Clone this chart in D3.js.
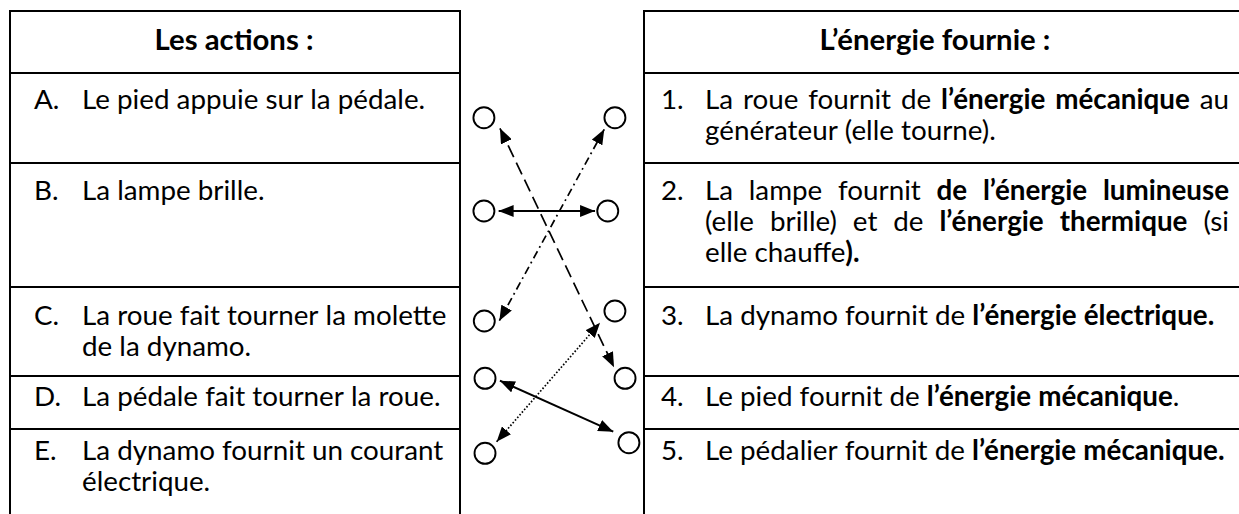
<!DOCTYPE html>
<html><head><meta charset="utf-8">
<script src="https://cdn.jsdelivr.net/npm/d3@7"></script>
<style>html,body{margin:0;padding:0;background:#fff}svg{display:block}</style>
</head><body>
<svg id="c" width="1239" height="514"></svg>
<script>
// ---------- data ----------
const headers = ["Les actions :", "L’énergie fournie :"];
const actionKeys = ["A.", "B.", "C.", "D.", "E."];
const actionTexts = [
  "Le pied appuie sur la pédale.",
  "La lampe brille.",
  "La roue fait tourner la molette|de la dynamo.",
  "La pédale fait tourner la roue.",
  "La dynamo fournit un courant|électrique."
];
const energyKeys = ["1.", "2.", "3.", "4.", "5."];
const energyTexts = [
  "La roue fournit de **l’énergie mécanique** au|générateur (elle tourne).",
  "La lampe fournit **de l’énergie lumineuse**|(elle brille) et de **l’énergie thermique** (si|elle chauffe**).**",
  "La dynamo fournit de **l’énergie électrique.**",
  "Le pied fournit de **l’énergie mécanique**.",
  "Le pédalier fournit de **l’énergie mécanique.**"
];
// answer nodes (u: % across the middle gap, v: vertical units)
const leftNodeIds = ["A", "B", "C", "D", "E"];
const leftNodeU = [13, 13, 13.2, 13.6, 13.6];
const leftNodeV = [117.7, 211, 321, 378.3, 453.3];
const rightNodeIds = ["1", "2", "3", "4", "5"];
const rightNodeU = [84.2, 80.3, 84.2, 89.7, 91.8];
const rightNodeV = [117.7, 211, 311, 378.3, 442.7];
// links (arrow tips)
const linkFrom = ["A", "B", "C", "D", "E"];
const linkTo = ["4", "2", "1", "5", "3"];
const linkStyle = ["dashed", "solid", "dashdot", "solid", "dotted"];
const linkFromU = [21.7, 21.0, 21.4, 21.7, 19.9];
const linkFromV = [128.3, 211, 320.7, 380.7, 441.7];
const linkToU = [83.7, 73.4, 78.4, 83.3, 76.1];
const linkToV = [367.3, 211, 129.3, 431.7, 322.7];

// ---------- layout ----------
const W = 1239, H = 514;
const svg = d3.select("#c");
const FONT = "Lato, 'Open Sans', sans-serif";
const rowEdges = [11, 73, 163, 287, 376, 429];
const leftX0 = 10, leftX1 = 460, rightX0 = 644, rightX1 = 1250;
const u = d3.scaleLinear().domain([0, 100]).range([leftX1, rightX0]);
const v = d3.scaleLinear().domain([0, H]).range([0, H]);

// measure helper
const meas = svg.append("text").attr("font-family", FONT).attr("x", -1000).attr("y", -1000);
function measure(str, size, bold) {
  meas.attr("font-size", size).attr("font-weight", bold ? 700 : 400).text(str);
  return meas.node().getComputedTextLength();
}
const bodySize = 100 * 364 / measure("La roue fait tourner la molette", 100, false);
const headSize = 100 * 159 / measure("Les actions :", 100, true);
const spaceW = measure("a a", bodySize, false) - measure("aa", bodySize, false);
meas.remove();

// ---------- grid ----------
const grid = svg.append("g").attr("stroke", "#000").attr("stroke-width", 2);
grid.selectAll("line.hl").data(rowEdges).join("line").attr("class", "hl")
  .attr("x1", leftX0 - 1).attr("x2", leftX1 + 1).attr("y1", d => d).attr("y2", d => d);
grid.selectAll("line.hr").data(rowEdges).join("line").attr("class", "hr")
  .attr("x1", rightX0 - 1).attr("x2", rightX1).attr("y1", d => d).attr("y2", d => d);
grid.selectAll("line.v").data([leftX0, leftX1, rightX0]).join("line").attr("class", "v")
  .attr("x1", d => d).attr("x2", d => d).attr("y1", rowEdges[0] - 1).attr("y2", H + 2);

// ---------- text ----------
const tg = svg.append("g").attr("font-family", FONT).attr("fill", "#000");
tg.append("text").attr("x", (leftX0 + leftX1) / 2 - 1).attr("y", 50).attr("text-anchor", "middle")
  .attr("font-size", headSize).attr("font-weight", 700).text(headers[0]);
tg.append("text").attr("x", 935).attr("y", 50).attr("text-anchor", "middle")
  .attr("font-size", headSize).attr("font-weight", 700).text(headers[1]);

function parseWords(str) {
  const runs = str.split("**").map((t, i) => ({t, b: i % 2 === 1})).filter(r => r.t.length);
  const ws = [[]];
  runs.forEach(r => {
    r.t.split(" ").forEach((p, i) => { if (i > 0) ws.push([]); if (p) ws[ws.length - 1].push({t: p, b: r.b}); });
  });
  return ws.filter(w => w.length);
}
function drawLine(str, x0, x1, y, justify) {
  const ws = parseWords(str);
  const els = ws.map(w => {
    const t = tg.append("text").attr("y", y).attr("font-size", bodySize);
    w.forEach(r => t.append("tspan").attr("font-weight", r.b ? 700 : 400).text(r.t));
    return t;
  });
  const widths = els.map(e => e.node().getComputedTextLength());
  let gap = spaceW;
  if (justify && ws.length > 1) gap = (x1 - x0 - d3.sum(widths)) / (ws.length - 1);
  let x = x0;
  els.forEach((e, i) => { e.attr("x", x); x += widths[i] + gap; });
}
const firstBase = [109, 200, 325, 406, 460];
const lineStep = 31;
actionKeys.forEach((k, i) => {
  tg.append("text").attr("x", 34).attr("y", firstBase[i]).attr("font-size", bodySize).text(k);
  actionTexts[i].split("|").forEach((ln, j) => drawLine(ln, 82, 450, firstBase[i] + j * lineStep, false));
});
energyKeys.forEach((k, i) => {
  tg.append("text").attr("x", 661).attr("y", firstBase[i]).attr("font-size", bodySize).text(k);
  const lines = energyTexts[i].split("|");
  lines.forEach((ln, j) => drawLine(ln, 705, 1229, firstBase[i] + j * lineStep, j < lines.length - 1));
});

// ---------- links ----------
const defs = svg.append("defs");
defs.append("marker").attr("id", "ah").attr("viewBox", "0 0 15 12")
  .attr("refX", 15).attr("refY", 6).attr("markerWidth", 15).attr("markerHeight", 12)
  .attr("markerUnits", "userSpaceOnUse").attr("orient", "auto-start-reverse")
  .append("path").attr("d", "M0,0 L15,6 L0,12 Z").attr("fill", "#000");
const dash = {solid: null, dashed: "13,6", dashdot: "8,4,1.8,4", dotted: "1.6,1.9"};
svg.append("g").selectAll("line").data(linkFrom.map((f, i) => i)).join("line")
  .attr("x1", i => u(linkFromU[i])).attr("y1", i => v(linkFromV[i]))
  .attr("x2", i => u(linkToU[i])).attr("y2", i => v(linkToV[i]))
  .attr("stroke", "#000").attr("stroke-width", i => linkStyle[i] === "solid" ? 2 : 1.7)
  .attr("stroke-dasharray", i => dash[linkStyle[i]])
  .attr("marker-start", "url(#ah)").attr("marker-end", "url(#ah)");

// ---------- nodes ----------
const ng = svg.append("g").attr("fill", "#fff").attr("stroke", "#000").attr("stroke-width", 1.9);
ng.selectAll("circle.l").data(leftNodeIds).join("circle").attr("class", "l")
  .attr("cx", (d, i) => u(leftNodeU[i])).attr("cy", (d, i) => v(leftNodeV[i])).attr("r", 10.5);
ng.selectAll("circle.r").data(rightNodeIds).join("circle").attr("class", "r")
  .attr("cx", (d, i) => u(rightNodeU[i])).attr("cy", (d, i) => v(rightNodeV[i])).attr("r", 10.5);
</script>
</body></html>
